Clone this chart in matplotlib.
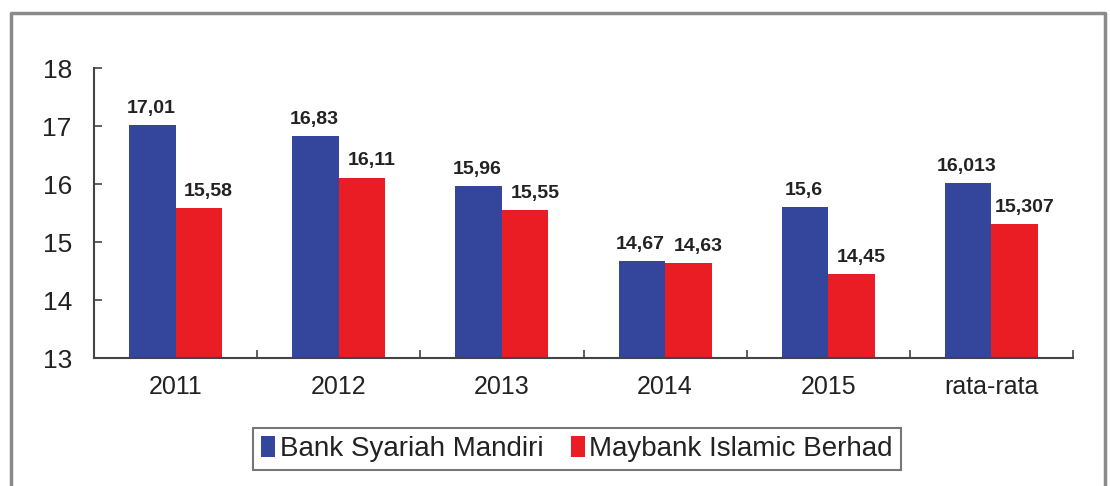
import numpy as np
import matplotlib.pyplot as plt
from matplotlib.lines import Line2D

plt.rcParams['font.family'] = ['Liberation Sans', 'DejaVu Sans']

categories = ["2011", "2012", "2013", "2014", "2015", "rata-rata"]
mandiri = [17.01, 16.83, 15.96, 14.67, 15.6, 16.013]
maybank = [15.58, 16.11, 15.55, 14.63, 14.45, 15.307]
series_names = ["Bank Syariah Mandiri", "Maybank Islamic Berhad"]

blue = "#33469c"
red = "#ea1c24"
axis_col = "#444444"
text_col = "#222222"

fig = plt.figure(figsize=(11.1, 4.86), dpi=100)
ax = fig.add_axes([94/1110, 1 - 358/486, (1073 - 94)/1110, (358 - 68)/486])

x = np.arange(len(categories))
w = 0.285
b1 = ax.bar(x - w/2, mandiri, w, color=blue, label=series_names[0], zorder=2)
b2 = ax.bar(x + w/2, maybank, w, color=red, label=series_names[1], zorder=2)

# value labels with comma decimals (red ones sit a little to the right)
for bars, vals, dx in [(b1, mandiri, -1), (b2, maybank, 7)]:
    for rect, v in zip(bars, vals):
        ax.annotate(str(v).replace('.', ','), (rect.get_x() + rect.get_width()/2, v),
                    xytext=(dx, 6), textcoords='offset points', ha='center', va='bottom',
                    fontsize=14, fontweight='bold', color=text_col)

ax.set_ylim(13, 18)
ax.set_xlim(-0.5, len(categories) - 0.5)
ax.set_yticks([13, 14, 15, 16, 17, 18])
ax.set_xticks(x)
ax.set_xticklabels(categories)
ax.set_xticks(x + 0.5, minor=True)
ax.tick_params(axis='x', which='major', length=0, pad=12, labelsize=18, labelcolor=text_col)
ax.tick_params(axis='x', which='minor', length=6, direction='in', color=axis_col, width=1.2)
ax.tick_params(axis='y', length=6, direction='in', color=axis_col, width=1.2, pad=16,
               labelsize=19, labelcolor=text_col)
for s in ['top', 'right']:
    ax.spines[s].set_visible(False)
for s in ['left', 'bottom']:
    ax.spines[s].set_color(axis_col)
    ax.spines[s].set_linewidth(1.5)

leg = fig.legend(loc='center', bbox_to_anchor=(577/1110, 1 - 449/486), ncol=2,
                 fontsize=20, frameon=True, fancybox=False, handlelength=0.5,
                 handleheight=0.8, handletextpad=0.15, columnspacing=1.0,
                 borderpad=0.3, edgecolor='#555555')
leg.get_frame().set_linewidth(1.5)
for t in leg.get_texts():
    t.set_color(text_col)

# outer gray frame (left, top, right)
fx = [11/1110, 11/1110, 1105/1110, 1105/1110]
fy = [0, 1 - 13/486, 1 - 13/486, 0]
fig.add_artist(Line2D(fx, fy, transform=fig.transFigure, color='#8a8a8a', lw=2.5))

fig.savefig("out.png", dpi=100)
